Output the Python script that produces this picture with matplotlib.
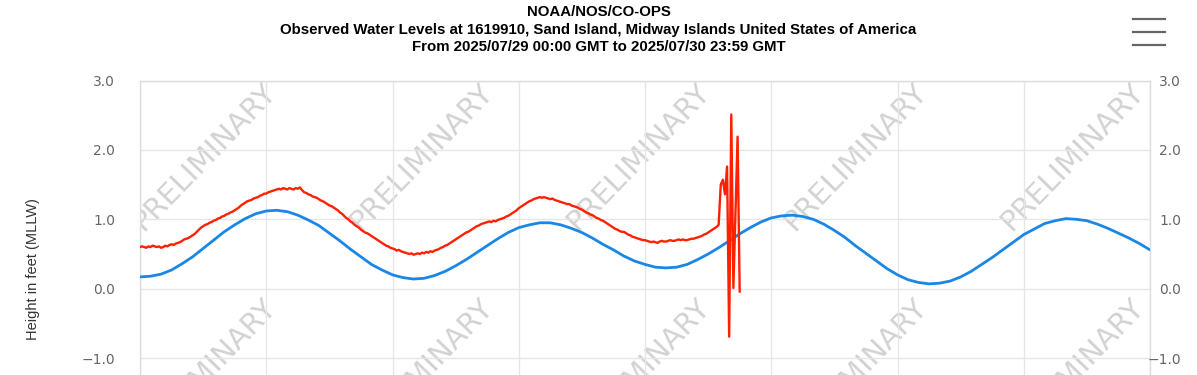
import matplotlib
matplotlib.use("Agg")
import matplotlib.pyplot as plt
import matplotlib.dates as mdates
from matplotlib.lines import Line2D
import pandas as pd

# ---------------- data ----------------
title_lines = [
    "NOAA/NOS/CO-OPS",
    "Observed Water Levels at 1619910, Sand Island, Midway Islands United States of America",
    "From 2025/07/29 00:00 GMT to 2025/07/30 23:59 GMT",
]
y_label = "Height in feet (MLLW)"
y_ticks = [-1.0, 0.0, 1.0, 2.0, 3.0]
y_tick_labels = ["\u22121.0", "0.0", "1.0", "2.0", "3.0"]
watermark = "PRELIMINARY"

# predicted tide (blue), every 30 minutes
pred_times = pd.date_range("2025-07-29 00:00", "2025-07-31 00:00", freq="30min")
pred_ft = [
    0.17, 0.18, 0.21, 0.27, 0.36, 0.46, 0.58, 0.70, 0.82, 0.92, 1.01, 1.08,
    1.12, 1.13, 1.11, 1.06, 0.99, 0.91, 0.80, 0.69, 0.57, 0.46, 0.35, 0.27,
    0.20, 0.16, 0.14, 0.15, 0.19, 0.25, 0.33, 0.42, 0.52, 0.62, 0.72, 0.81,
    0.88, 0.92, 0.95, 0.95, 0.92, 0.87, 0.81, 0.73, 0.64, 0.56, 0.47, 0.40,
    0.35, 0.31, 0.30, 0.31, 0.35, 0.42, 0.50, 0.59, 0.69, 0.79, 0.88, 0.96,
    1.02, 1.05, 1.06, 1.04, 1.00, 0.93, 0.84, 0.74, 0.62, 0.51, 0.40, 0.29,
    0.20, 0.13, 0.09, 0.07, 0.08, 0.11, 0.17, 0.25, 0.35, 0.45, 0.56, 0.67,
    0.78, 0.86, 0.94, 0.98, 1.01, 1.00, 0.98, 0.93, 0.87, 0.80, 0.73, 0.65,
    0.56,
]

# observed water level (red), 6-minute samples until the sensor glitch
obs_times_regular = pd.date_range("2025-07-29 00:00", periods=275, freq="6min")
obs_ft_regular = [
    0.60, 0.61, 0.60, 0.59, 0.61, 0.60, 0.62, 0.61, 0.60, 0.61,
    0.59, 0.60, 0.62, 0.61, 0.63, 0.64, 0.63, 0.65, 0.66, 0.67,
    0.69, 0.71, 0.72, 0.73, 0.75, 0.77, 0.79, 0.82, 0.85, 0.88,
    0.90, 0.92, 0.93, 0.95, 0.96, 0.98, 0.99, 1.01, 1.02, 1.04,
    1.05, 1.07, 1.08, 1.10, 1.11, 1.13, 1.15, 1.17, 1.20, 1.22,
    1.24, 1.26, 1.27, 1.28, 1.30, 1.31, 1.32, 1.34, 1.35, 1.37,
    1.37, 1.39, 1.40, 1.41, 1.42, 1.43, 1.44, 1.43, 1.45, 1.44,
    1.43, 1.45, 1.44, 1.43, 1.45, 1.44, 1.46, 1.42, 1.39, 1.38,
    1.36, 1.35, 1.33, 1.32, 1.31, 1.29, 1.27, 1.26, 1.24, 1.22,
    1.20, 1.19, 1.17, 1.15, 1.13, 1.10, 1.08, 1.05, 1.02, 1.00,
    0.97, 0.95, 0.92, 0.90, 0.88, 0.85, 0.83, 0.81, 0.80, 0.78,
    0.76, 0.74, 0.72, 0.70, 0.68, 0.66, 0.64, 0.62, 0.61, 0.59,
    0.58, 0.57, 0.55, 0.56, 0.54, 0.53, 0.52, 0.51, 0.50, 0.51,
    0.49, 0.50, 0.51, 0.50, 0.52, 0.51, 0.53, 0.52, 0.54, 0.53,
    0.55, 0.56, 0.57, 0.59, 0.60, 0.62, 0.63, 0.65, 0.67, 0.69,
    0.71, 0.73, 0.75, 0.77, 0.79, 0.81, 0.82, 0.84, 0.86, 0.88,
    0.90, 0.91, 0.93, 0.94, 0.95, 0.96, 0.97, 0.96, 0.98, 0.97,
    0.99, 1.00, 1.01, 1.02, 1.04, 1.05, 1.07, 1.09, 1.11, 1.13,
    1.16, 1.18, 1.20, 1.22, 1.24, 1.26, 1.27, 1.29, 1.30, 1.31,
    1.32, 1.31, 1.32, 1.31, 1.30, 1.29, 1.30, 1.28, 1.27, 1.26,
    1.25, 1.24, 1.23, 1.22, 1.22, 1.20, 1.19, 1.18, 1.17, 1.15,
    1.14, 1.12, 1.10, 1.09, 1.07, 1.06, 1.04, 1.02, 1.01, 0.99,
    0.98, 0.96, 0.94, 0.92, 0.90, 0.88, 0.86, 0.85, 0.83, 0.82,
    0.82, 0.80, 0.78, 0.77, 0.75, 0.74, 0.73, 0.72, 0.71, 0.70,
    0.70, 0.69, 0.68, 0.67, 0.68, 0.67, 0.66, 0.68, 0.69, 0.68,
    0.68, 0.69, 0.70, 0.69, 0.69, 0.70, 0.71, 0.70, 0.71, 0.70,
    0.70, 0.71, 0.72, 0.72, 0.73, 0.74, 0.75, 0.76, 0.78, 0.79,
    0.81, 0.83, 0.85, 0.87, 0.89,
]
obs_times_glitch = pd.to_datetime([
    "2025-07-30 03:30", "2025-07-30 03:36", "2025-07-30 03:42", "2025-07-30 03:48",
    "2025-07-30 03:54", "2025-07-30 04:00", "2025-07-30 04:06", "2025-07-30 04:12",
    "2025-07-30 04:24", "2025-07-30 04:30",
])
obs_ft_glitch = [0.92, 1.50, 1.57, 1.36, 1.76, -0.69, 2.51, 0.01, 2.19, -0.04]

obs_times = obs_times_regular.append(obs_times_glitch)
obs_ft = obs_ft_regular + obs_ft_glitch

# ---------------- figure ----------------
W, H = 1197, 375
fig = plt.figure(figsize=(W / 100, H / 100), dpi=100)
fig.patch.set_facecolor("white")

PL, PR, PT = 140, 1150, 80.5
ax = fig.add_axes([PL / W, 0.0, (PR - PL) / W, (H - PT) / H])
ax.set_xlim(pd.Timestamp("2025-07-29 00:00"), pd.Timestamp("2025-07-31 00:00"))
ax.set_ylim(-1.243, 3.0)

ax.xaxis.set_major_locator(mdates.HourLocator(byhour=[0, 6, 12, 18]))
ax.tick_params(axis="x", length=0, labelbottom=False)
ax.set_yticks(y_ticks)
ax.set_yticklabels(y_tick_labels)
ax.tick_params(axis="y", length=0, pad=18, labelcolor="#666666", labelsize=10)
ax.grid(True, color="#e6e6e6", lw=1.0, zorder=0)
for s in ("top", "left", "right"):
    ax.spines[s].set_color("#dcdcdc")
    ax.spines[s].set_linewidth(1.0)
ax.spines["bottom"].set_visible(False)

ax2 = ax.twinx()
ax2.set_ylim(ax.get_ylim())
ax2.set_yticks(y_ticks)
ax2.set_yticklabels(y_tick_labels)
ax2.tick_params(axis="y", length=0, pad=22.5, labelcolor="#666666", labelsize=10)
for t in ax2.get_yticklabels():
    t.set_horizontalalignment("right")
for s in ax2.spines.values():
    s.set_visible(False)

# watermark
for cx in [204, 421, 638, 855, 1072]:
    for cy in [157, 372]:
        ax.text((cx - PL) / (PR - PL), (H - cy) / (H - PT), watermark,
                transform=ax.transAxes, rotation=46, rotation_mode="anchor",
                ha="center", va="center", fontsize=21, color="#d2d2d2",
                family="DejaVu Sans", clip_on=True, zorder=1)

ax.plot(pred_times, pred_ft, color="#1a87e6", lw=2.0, zorder=3, solid_capstyle="round")
ax.plot(obs_times, obs_ft, color="#ff2000", lw=1.7, zorder=4, solid_joinstyle="round")

# titles
for line, py in zip(title_lines, [12, 30, 47]):
    fig.text(0.5, 1 - py / H, line, ha="center", va="center", fontsize=10.8,
             fontweight="bold", family="Liberation Sans", color="#000000")

fig.text(33 / W, 1 - 269 / H, y_label, rotation=90, ha="center", va="center",
         fontsize=10.5, family="Liberation Sans", color="#333333")

# menu icon
for py in (19, 32, 45):
    fig.add_artist(Line2D([1133 / W, 1165 / W], [1 - py / H, 1 - py / H],
                          color="#666666", lw=1.6))

fig.savefig("out.png", dpi=100, facecolor="white")
